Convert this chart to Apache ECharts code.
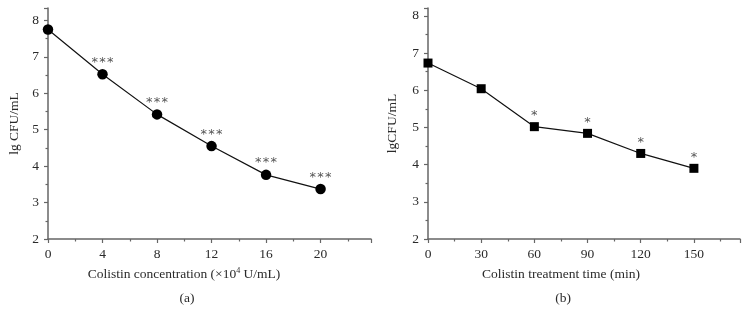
<!DOCTYPE html>
<html>
<head>
<meta charset="utf-8">
<script src="https://cdn.jsdelivr.net/npm/echarts@6/dist/echarts.min.js"></script>
<style>
  html, body { margin: 0; padding: 0; background: #fff; }
  #chart { width: 749px; height: 324px; }
</style>
</head>
<body>
<div id="chart"></div>
<script>
// Panel (a): concentration series
const concX = [0, 4, 8, 12, 16, 20];
const concY = [7.75, 6.52, 5.42, 4.55, 3.76, 3.37];
const concMarks = ['', '*\u200A*\u200A*', '*\u200A*\u200A*', '*\u200A*\u200A*', '*\u200A*\u200A*', '*\u200A*\u200A*'];

// Panel (b): time series
const timeX = [0, 30, 60, 90, 120, 150];
const timeY = [6.73, 6.04, 5.02, 4.84, 4.30, 3.90];
const timeMarks = ['', '', '*', '*', '*', '*'];

const FONT = '"Liberation Serif", "DejaVu Serif", serif';
const AXIS_COLOR = '#666';
const TEXT_COLOR = '#2a2a2a';

const axisCommon = {
  type: 'value',
  axisLine: { show: true, onZero: false, lineStyle: { color: AXIS_COLOR, width: 1.5 } },
  axisTick: { show: true, length: 4, lineStyle: { color: AXIS_COLOR, width: 1.2 } },
  minorTick: { show: true, splitNumber: 2, length: 2.5, lineStyle: { color: AXIS_COLOR, width: 1.2 } },
  splitLine: { show: false },
  axisLabel: { color: TEXT_COLOR, fontFamily: FONT, fontSize: 13.5, margin: 8, showMaxLabel: false },
};

const starLabel = (marks) => ({
  show: true,
  position: 'top',
  distance: 0,
  color: '#555',
  fontFamily: '"DejaVu Sans", sans-serif',
  fontSize: 13,
  formatter: (p) => marks[p.dataIndex],
});

const pair = (xs, ys) => xs.map((x, i) => [x, ys[i]]);

const chart = echarts.init(document.getElementById('chart'));
chart.setOption({
  backgroundColor: '#fff',
  animation: false,
  grid: [
    { left: 48, top: 8, width: 323, height: 231 },
    { left: 428, top: 8, width: 312, height: 231 },
  ],
  xAxis: [
    { ...axisCommon, gridIndex: 0, min: 0, max: 23.7, interval: 4 },
    { ...axisCommon, gridIndex: 1, min: 0, max: 176, interval: 30 },
  ],
  yAxis: [
    {
      ...axisCommon, gridIndex: 0, min: 2, max: 8.34, interval: 1,
      axisLabel: { ...axisCommon.axisLabel, margin: 9 },
      name: 'lg CFU/mL', nameLocation: 'middle', nameGap: 27,
      nameTextStyle: { color: TEXT_COLOR, fontFamily: FONT, fontSize: 13.5 },
    },
    {
      ...axisCommon, gridIndex: 1, min: 2, max: 8.21, interval: 1,
      axisLabel: { ...axisCommon.axisLabel, margin: 9 },
      name: 'lgCFU/mL', nameLocation: 'middle', nameGap: 29,
      nameTextStyle: { color: TEXT_COLOR, fontFamily: FONT, fontSize: 13.5 },
    },
  ],
  series: [
    {
      type: 'line',
      xAxisIndex: 0,
      yAxisIndex: 0,
      data: pair(concX, concY),
      symbol: 'circle',
      symbolSize: 10.5,
      itemStyle: { color: '#000' },
      lineStyle: { color: '#111', width: 1.2 },
      label: starLabel(concMarks),
    },
    {
      type: 'line',
      xAxisIndex: 1,
      yAxisIndex: 1,
      data: pair(timeX, timeY),
      symbol: 'rect',
      symbolSize: 9,
      itemStyle: { color: '#000' },
      lineStyle: { color: '#111', width: 1.2 },
      label: starLabel(timeMarks),
    },
  ],
  graphic: [
    {
      type: 'text', x: 184, y: 274,
      style: {
        text: 'Colistin concentration (×10{sup|4} U/mL)',
        align: 'center', verticalAlign: 'middle',
        fill: TEXT_COLOR, font: '13.5px ' + FONT,
        rich: { sup: { fontSize: 8, fontFamily: FONT, verticalAlign: 'top', padding: [0, 0, 6, 0], fill: TEXT_COLOR } },
      },
    },
    {
      type: 'text', x: 187, y: 298,
      style: { text: '(a)', align: 'center', verticalAlign: 'middle', fill: TEXT_COLOR, font: '13.5px ' + FONT },
    },
    {
      type: 'text', x: 561, y: 274,
      style: { text: 'Colistin treatment time (min)', align: 'center', verticalAlign: 'middle', fill: TEXT_COLOR, font: '13.5px ' + FONT },
    },
    {
      type: 'text', x: 563, y: 298,
      style: { text: '(b)', align: 'center', verticalAlign: 'middle', fill: TEXT_COLOR, font: '13.5px ' + FONT },
    },
  ],
});

window.addEventListener('resize', () => chart.resize());
</script>
</body>
</html>
